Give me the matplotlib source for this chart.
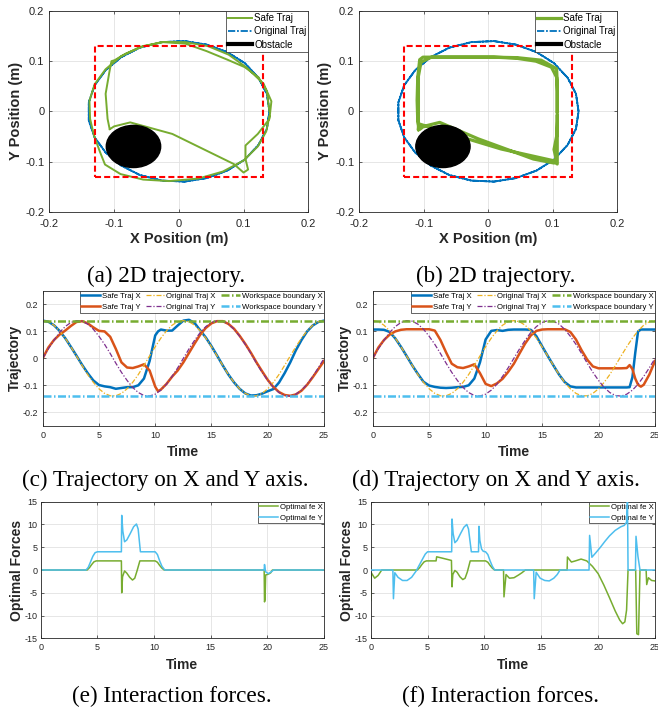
import matplotlib
matplotlib.use('Agg')
import matplotlib.pyplot as plt
from matplotlib.patches import Ellipse, Rectangle
from matplotlib.lines import Line2D

plt.rcParams['font.family'] = ['Liberation Sans', 'DejaVu Sans']
plt.rcParams['axes.unicode_minus'] = False

# ---------------- data ----------------
# original reference trajectory, sampled every 0.5 s
t_orig = [0, 0.5, 1, 1.5, 2, 2.5, 3, 3.5, 4, 4.5, 5, 5.5, 6, 6.5, 7, 7.5, 8, 8.5, 9, 9.5,
          10, 10.5, 11, 11.5, 12, 12.5, 13, 13.5, 14, 14.5, 15, 15.5, 16, 16.5, 17, 17.5,
          18, 18.5, 19, 19.5, 20, 20.5, 21, 21.5, 22, 22.5, 23, 23.5, 24, 24.5, 25]
orig_x = [0.140, 0.136, 0.123, 0.102, 0.075, 0.043, 0.009, -0.026, -0.060, -0.089,
          -0.113, -0.130, -0.139, -0.139, -0.130, -0.113, -0.089, -0.060, -0.026, 0.009,
          0.043, 0.075, 0.102, 0.123, 0.136, 0.140,
          0.136, 0.123, 0.102, 0.075, 0.043, 0.009, -0.026, -0.060, -0.089,
          -0.113, -0.130, -0.139, -0.139, -0.130, -0.113, -0.089, -0.060, -0.026, 0.009,
          0.043, 0.075, 0.102, 0.123, 0.136, 0.140]
orig_y = [0.000, 0.035, 0.067, 0.096, 0.118, 0.133, 0.140, 0.138, 0.127, 0.108,
          0.082, 0.052, 0.018, -0.018, -0.052, -0.082, -0.108, -0.127, -0.138, -0.140,
          -0.133, -0.118, -0.096, -0.067, -0.035, 0.000,
          0.035, 0.067, 0.096, 0.118, 0.133, 0.140, 0.138, 0.127, 0.108,
          0.082, 0.052, 0.018, -0.018, -0.052, -0.082, -0.108, -0.127, -0.138, -0.140,
          -0.133, -0.118, -0.096, -0.067, -0.035, 0.000]

# safe trajectory, case (a)/(c)
t_c = [0, 0.5, 1, 1.5, 2, 2.5, 3, 3.5, 4, 4.5,
       5, 5.5, 6, 6.5, 7, 7.5, 8, 8.5, 9, 9.5,
       10, 10.25, 10.5, 11, 11.5, 12, 12.5, 13, 13.5, 14,
       14.5, 15, 15.5, 16, 16.5, 17, 17.5, 18, 18.5, 19,
       19.5, 20, 20.5, 21, 21.5, 22, 22.5, 23, 23.5, 24,
       24.5, 25]
safe_x_c = [0.140, 0.136, 0.123, 0.102, 0.075, 0.043, 0.010, -0.024, -0.055, -0.082,
            -0.099, -0.104, -0.107, -0.113, -0.110, -0.107, -0.107, -0.100, -0.075, -0.010,
            0.085, 0.100, 0.107, 0.103, 0.103, 0.122, 0.140, 0.143, 0.131, 0.104,
            0.077, 0.045, 0.010, -0.026, -0.060, -0.089, -0.113, -0.130, -0.138, -0.137,
            -0.131, -0.122, -0.114, -0.090, -0.055, -0.015, 0.030, 0.068, 0.100, 0.122,
            0.135, 0.140]
safe_y_c = [0.000, 0.040, 0.068, 0.088, 0.103, 0.120, 0.135, 0.138, 0.130, 0.115,
            0.102, 0.100, 0.080, 0.035, -0.015, -0.034, -0.036, -0.030, -0.022, -0.045,
            -0.105, -0.122, -0.116, -0.095, -0.068, -0.045, -0.015, 0.020, 0.055, 0.088,
            0.113, 0.130, 0.138, 0.138, 0.128, 0.110, 0.084, 0.054, 0.021, -0.015,
            -0.048, -0.080, -0.106, -0.125, -0.136, -0.139, -0.134, -0.120, -0.098, -0.070,
            -0.040, -0.010]

# safe trajectory, case (b)/(d)
t_d = [0, 0.5, 1, 1.5, 2, 2.5, 3, 3.5, 4, 4.5,
       5, 5.5, 6, 6.5, 7, 7.5, 8, 8.5, 9, 9.5,
       10, 10.5, 11, 11.5, 12, 12.5, 13, 13.5, 14, 14.5,
       15, 15.5, 16, 16.5, 17, 17.5, 18, 18.5, 19, 19.5,
       20, 20.5, 21, 21.5, 22, 22.5,
       22.75, 23, 23.25, 23.5, 23.75, 24,
       24.5, 25]
safe_x_d = [0.107, 0.107, 0.106, 0.098, 0.074, 0.043, 0.009, -0.026, -0.058, -0.087,
            -0.101, -0.106, -0.109, -0.110, -0.109, -0.107, -0.106, -0.100, -0.075, -0.015,
            0.070, 0.102, 0.105, 0.102, 0.106, 0.107, 0.107, 0.107, 0.106, 0.082,
            0.045, 0.009, -0.026, -0.060, -0.088, -0.104, -0.108, -0.108, -0.108, -0.108,
            -0.108, -0.108, -0.108, -0.108, -0.108, -0.108,
            -0.107, -0.070, 0.020, 0.100, 0.107, 0.107,
            0.107, 0.107]
safe_y_d = [0.000, 0.040, 0.068, 0.088, 0.100, 0.106, 0.108, 0.108, 0.108, 0.108,
            0.108, 0.103, 0.068, 0.022, -0.020, -0.033, -0.036, -0.030, -0.022, -0.055,
            -0.095, -0.103, -0.093, -0.076, -0.050, -0.020, 0.018, 0.055, 0.085, 0.102,
            0.107, 0.108, 0.108, 0.108, 0.108, 0.098, 0.070, 0.030, -0.005, -0.030,
            -0.037, -0.037, -0.037, -0.037, -0.037, -0.036,
            -0.025, -0.040, -0.075, -0.098, -0.105, -0.098,
            -0.060, -0.010]

ws_half = 0.13            # red dashed workspace square (2D)
ws_bound = 0.14           # workspace boundary lines (time plots)
obs_center = (-0.07, -0.07)
obs_radius = 0.042

# interaction forces, case (e)
fx_e_t = [0, 4.1, 4.3, 4.5, 4.7, 4.9, 7.12, 7.15, 7.22, 7.4, 7.6, 7.85, 8.1, 8.3, 8.5,
          8.75, 10.1, 10.3, 10.5, 10.7, 10.9, 19.72, 19.75, 19.8, 19.85, 20.1, 20.3, 20.45, 25]
fx_e = [0, 0, 0.5, 1.2, 1.8, 2.0, 2.0, -5.0, -1.5, -0.2, -0.7, -1.6, -2.2, -1.8, -0.2,
        2.0, 2.0, 1.7, 1.0, 0.4, 0, 0, -7.0, -6.5, -1.1, -0.9, -0.6, 0, 0]
fy_e_t = [0, 4.0, 4.2, 4.4, 4.6, 4.8, 5.0, 7.12, 7.15, 7.25, 7.4, 7.6, 7.9, 8.2, 8.45,
          8.6, 8.8, 10.1, 10.3, 10.5, 10.7, 10.95, 19.72, 19.75, 19.85, 20.1, 20.4, 20.55, 25]
fy_e = [0, 0, 0.6, 1.8, 3.0, 3.8, 4.0, 4.0, 12.0, 8.5, 6.2, 6.6, 8.0, 9.5, 10.1,
        9.0, 4.0, 4.0, 3.4, 2.0, 0.8, 0, 0, 1.2, -0.4, -0.8, -0.3, 0, 0]

# interaction forces, case (f)
fx_f_t = [0, 0.05, 0.35, 0.65, 0.97, 4.1, 4.3, 4.5, 4.7, 4.9,
          5.75, 5.8, 6.3, 7.1, 7.15, 7.22, 7.4, 7.6, 7.85, 8.1,
          8.3, 8.5, 8.75, 10.1, 10.3, 10.5, 10.7, 10.9, 11.68, 11.72,
          11.9, 12.2, 12.6, 13.0, 13.3, 13.6, 17.27, 17.3, 17.65, 18.0,
          18.5, 19.0, 19.5, 20.0, 20.5, 21.0, 21.5, 21.9, 22.15, 22.35,
          22.5, 22.63, 23.3, 23.4, 23.55, 23.68, 24.22, 24.27, 24.42, 24.7,
          25.0]
fx_f = [-6.7, -0.6, -1.8, -1.2, 0, 0, 0.5, 1.2, 1.8, 2.0,
        2.0, 2.9, 2.6, 2.1, -3.7, -1.0, -0.1, -0.5, -1.5, -2.1,
        -1.8, -0.4, 2.0, 2.0, 1.7, 1.0, 0.4, 0, 0, -5.9,
        -1.0, -1.8, -1.7, -1.1, -0.6, 0, 0, 2.85, 1.75, 2.0,
        2.4, 2.0, 0.8, -0.8, -3.3, -6.1, -9.0, -11.0, -11.8, -11.4,
        -8.8, 0, 0, -14.0, -14.2, 0, 0, -3.2, -1.7, -2.3,
        -2.4]
fy_f_t = [0, 1.95, 2.0, 2.12, 2.4, 2.8, 3.2, 3.6, 4.0, 4.3,
          4.6, 4.8, 5.0, 7.12, 7.15, 7.25, 7.4, 7.6, 7.9, 8.2,
          8.45, 8.6, 8.85, 9.48, 9.52, 9.6, 9.75, 9.9, 10.1, 10.3,
          10.5, 10.7, 10.9, 14.33, 14.38, 14.55, 14.9, 15.3, 15.7, 16.1,
          16.4, 16.65, 19.2, 19.25, 19.45, 19.8, 20.2, 20.6, 21.0, 21.5,
          22.0, 22.3, 22.5, 22.58, 22.63, 23.28, 23.33, 23.5, 23.68, 25]
fy_f = [0, 0, -6.3, -0.6, -1.6, -2.3, -2.3, -1.6, -0.2, 1.2,
        2.6, 3.5, 4.0, 4.0, 11.2, 8.0, 6.0, 6.5, 8.0, 9.4,
        10.0, 9.0, 4.0, 4.0, 9.6, 6.5, 4.6, 4.1, 4.0, 3.4,
        2.0, 0.8, 0, 0, -6.3, -0.5, -1.8, -2.3, -2.4, -1.8,
        -1.0, 0, 0, 7.6, 2.8, 3.8, 5.0, 6.3, 7.5, 8.7,
        9.5, 9.8, 10.5, 15.5, 0, 0, 7.4, 3.0, 0, 0]

ticks_2d = [-0.2, -0.1, 0, 0.1, 0.2]
ticklabels_2d = ['-0.2', '-0.1', '0', '0.1', '0.2']
ticks_t = [0, 5, 10, 15, 20, 25]
ticks_traj = [-0.2, -0.1, 0, 0.1, 0.2]
ticklabels_traj = ['-0.2', '-0.1', '0', '0.1', '0.2']
ticks_f = [-15, -10, -5, 0, 5, 10, 15]

captions = ['(a) 2D trajectory.', '(b) 2D trajectory.',
            '(c) Trajectory on X and Y axis.', '(d) Trajectory on X and Y axis.',
            '(e) Interaction forces.', '(f) Interaction forces.']

# ---------------- styling ----------------
AXC = '#262626'
C_BLUE = '#0072BD'
C_ORANGE = '#D95319'
C_YELLOW = '#EDB120'
C_PURPLE = '#7E2F8E'
C_GREEN = '#77AC30'
C_CYAN = '#4DBEEE'

W, H = 658, 708
fig = plt.figure(figsize=(W / 100, H / 100), dpi=100)


def px_axes(l, r, t, b):
    return fig.add_axes([l / W, 1 - b / H, (r - l) / W, (b - t) / H])


def style(ax, fs, xpad, ypad):
    ax.tick_params(direction='in', length=2.5, width=0.5, labelsize=fs, colors=AXC,
                   top=True, right=True)
    ax.tick_params(axis='x', pad=xpad)
    ax.tick_params(axis='y', pad=ypad)
    for s in ax.spines.values():
        s.set_color(AXC)
        s.set_linewidth(0.6)
    ax.grid(True, color='#e2e2e2', lw=0.6)
    ax.set_axisbelow(True)


def small_legend(ax, handles, labels, fs, ncol=1, spacing=0.5):
    leg = ax.legend(handles, labels, loc='upper right', fontsize=fs, ncol=ncol,
                    frameon=True, fancybox=False, framealpha=1, edgecolor=AXC,
                    borderaxespad=0, borderpad=0.2, labelspacing=spacing,
                    handlelength=2.4, handletextpad=0.25, columnspacing=0.7)
    leg.get_frame().set_linewidth(0.5)
    return leg


def traj2d(ax, sx, sy, lw_safe):
    ax.plot(orig_x, orig_y, color=C_BLUE, lw=1.3, ls=(0, (8, 0.8, 1, 0.8)))
    ax.plot(sx, sy, color=C_GREEN, lw=lw_safe)
    ax.add_patch(Ellipse(obs_center, 2 * obs_radius, 2 * obs_radius, color='black', zorder=3))
    ax.add_patch(Rectangle((-ws_half, -ws_half), 2 * ws_half, 2 * ws_half, fill=False,
                           ec='#FF0000', lw=1.5, ls=(0, (2.9, 1.5)), zorder=4))
    ax.set_xlim(-0.2, 0.2)
    ax.set_ylim(-0.2, 0.2)
    ax.set_xticks(ticks_2d)
    ax.set_xticklabels(ticklabels_2d)
    ax.set_yticks(ticks_2d)
    ax.set_yticklabels(ticklabels_2d)
    style(ax, 8, 5.5, 3.5)
    ax.set_xlabel('X Position (m)', fontsize=10.5, fontweight='bold', color=AXC, labelpad=2)
    ax.set_ylabel('Y Position (m)', fontsize=10.5, fontweight='bold', color=AXC, labelpad=2)
    h = [Line2D([], [], color=C_GREEN, lw=lw_safe),
         Line2D([], [], color=C_BLUE, lw=1.3, ls=(0, (4, 1, 1, 1))),
         Line2D([], [], color='black', lw=3)]
    small_legend(ax, h, ['Safe Traj', 'Original Traj', 'Obstacle'], 7, spacing=0.35)


def traj_t(ax, t, sx, sy):
    ax.plot(t, sx, color=C_BLUE, lw=1.8, label='Safe Traj X')
    ax.plot(t, sy, color=C_ORANGE, lw=1.8, label='Safe Traj Y')
    ax.plot(t_orig, orig_x, color=C_YELLOW, lw=0.9, ls=(0, (4, 1.5, 1, 1.5)), label='Original Traj X')
    ax.plot(t_orig, orig_y, color=C_PURPLE, lw=0.9, ls=(0, (4, 1.5, 1, 1.5)), label='Original Traj Y')
    ax.axhline(ws_bound, color=C_GREEN, lw=1.8, ls=(0, (3.2, 1, 0.6, 1)), label='Workspace boundary X')
    ax.axhline(-ws_bound, color=C_CYAN, lw=1.8, ls=(0, (3.2, 1, 0.6, 1)), label='Workspace boundary Y')
    ax.set_xlim(0, 25)
    ax.set_ylim(-0.25, 0.25)
    ax.set_xticks(ticks_t)
    ax.set_yticks(ticks_traj)
    ax.set_yticklabels(ticklabels_traj)
    style(ax, 6.5, 4.0, 3.5)
    ax.set_xlabel('Time', fontsize=10, fontweight='bold', color=AXC, labelpad=3.5)
    ax.set_ylabel('Trajectory', fontsize=10, fontweight='bold', color=AXC, labelpad=0)
    hs, ls = ax.get_legend_handles_labels()
    small_legend(ax, hs, ls, 5.6, ncol=3, spacing=0.45)


def forces(ax, tx, fx, ty, fy, yz=2):
    ax.plot(tx, fx, color=C_GREEN, lw=1.1, label='Optimal fe X')
    ax.plot(ty, fy, color=C_CYAN, lw=1.1, label='Optimal fe Y', zorder=yz)
    ax.set_xlim(0, 25)
    ax.set_ylim(-15, 15)
    ax.set_xticks(ticks_t)
    ax.set_yticks(ticks_f)
    style(ax, 6.5, 3.5, 2.5)
    ax.set_xlabel('Time', fontsize=10, fontweight='bold', color=AXC, labelpad=4)
    ax.set_ylabel('Optimal Forces', fontsize=10, fontweight='bold', color=AXC, labelpad=0)
    hs, ls = ax.get_legend_handles_labels()
    small_legend(ax, hs, ls, 5.6, spacing=0.45)


ax_a = px_axes(49.3, 308.3, 11, 211.7)
traj2d(ax_a, safe_x_c, safe_y_c, 1.4)
ax_b = px_axes(359, 617.3, 11, 211.7)
traj2d(ax_b, safe_x_d, safe_y_d, 2.3)

ax_c = px_axes(42.7, 324, 291, 425.7)
traj_t(ax_c, t_c, safe_x_c, safe_y_c)
ax_d = px_axes(372.7, 655, 291, 425.7)
traj_t(ax_d, t_d, safe_x_d, safe_y_d)

ax_e = px_axes(40.7, 324, 501.7, 638.3)
forces(ax_e, fx_e_t, fx_e, fy_e_t, fy_e)
ax_f = px_axes(370.7, 655, 501.7, 638.3)
forces(ax_f, fx_f_t, fx_f, fy_f_t, fy_f, yz=6)

cap_pos = [(166, 282), (496, 282), (165, 486), (496, 486), (172, 702.5), (501, 702.5)]
for txt, (cx, cy) in zip(captions, cap_pos):
    fig.text(cx / W, 1 - cy / H, txt, ha='center', va='baseline',
             family=['Liberation Serif', 'DejaVu Serif'], fontsize=16.7, color='black')

fig.savefig('out.png', dpi=100)
